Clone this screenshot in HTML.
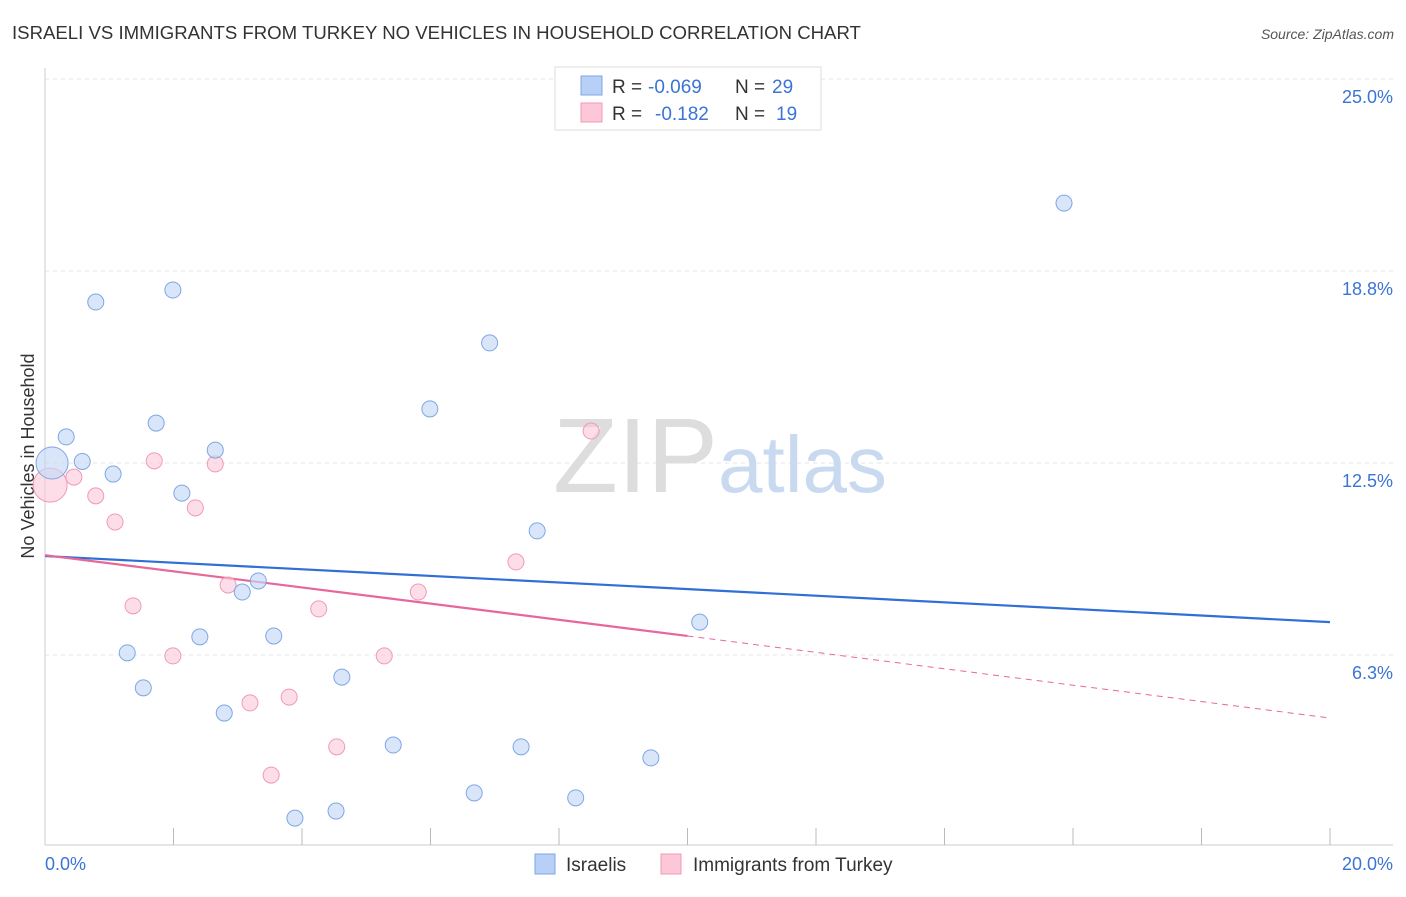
<!DOCTYPE html>
<html><head><meta charset="utf-8"><style>
body{margin:0;background:#fff;font-family:"Liberation Sans",sans-serif;}
svg text{font-family:"Liberation Sans",sans-serif;}
</style></head><body>
<svg id="c" width="1406" height="892" viewBox="0 0 1406 892" xmlns="http://www.w3.org/2000/svg">
<text x="12" y="39" font-size="18.6" fill="#333">ISRAELI VS IMMIGRANTS FROM TURKEY NO VEHICLES IN HOUSEHOLD CORRELATION CHART</text>
<text x="1394" y="39" font-size="14" fill="#555" font-style="italic" text-anchor="end">Source: ZipAtlas.com</text>
<g id="grid"></g>
<text x="553" y="492" font-size="106" fill="#ddd" font-family="Liberation Serif">ZIP</text>
<text x="718" y="492" font-size="80" fill="#c9daf0">atlas</text>
<line x1="45" y1="68" x2="45" y2="845" stroke="#ccc"/>
<line x1="45" y1="845" x2="1393" y2="845" stroke="#ccc"/>
<g id="xt"></g>
<text transform="translate(34,456) rotate(-90)" font-size="18" fill="#333" text-anchor="middle">No Vehicles in Household</text>
<text x="45" y="870" font-size="18" fill="#3a74d6">0.0%</text>
<text x="1393" y="870" font-size="18" fill="#3a74d6" text-anchor="end">20.0%</text>
<g id="lines"></g>
<g id="pts"></g>
<g>
<rect x="555" y="67" width="266" height="63" fill="#fff" stroke="#ddd"/>
<rect x="581" y="76" width="21" height="19" fill="#b8d0f5" stroke="#7ea6e6"/>
<rect x="581" y="103" width="21" height="19" fill="#fcc8d8" stroke="#f09ab5"/>
<text x="612" y="93" font-size="19" fill="#333">R =</text>
<text x="648" y="93" font-size="19" fill="#3a74d6">-0.069</text>
<text x="735" y="93" font-size="19" fill="#333">N =</text>
<text x="772" y="93" font-size="19" fill="#3a74d6">29</text>
<text x="612" y="120" font-size="19" fill="#333">R =</text>
<text x="655" y="120" font-size="19" fill="#3a74d6">-0.182</text>
<text x="735" y="120" font-size="19" fill="#333">N =</text>
<text x="776" y="120" font-size="19" fill="#3a74d6">19</text>
</g>
<g>
<rect x="535" y="854" width="20" height="20" fill="#b8d0f5" stroke="#7ea6e6"/>
<text x="566" y="871" font-size="19" fill="#333">Israelis</text>
<rect x="661" y="854" width="20" height="20" fill="#fcc8d8" stroke="#f09ab5"/>
<text x="693" y="871" font-size="19" fill="#333">Immigrants from Turkey</text>
</g>
</svg>
<script>
const yTicks=[6.3,12.5,18.8,25.0];
const yTickVals=[6.25,12.5,18.75,25];
const xTickCount=10;
const blueX=[0.11,0.33,0.58,0.79,1.06,1.73,1.99,2.13,2.65,1.28,1.53,2.41,2.79,3.07,3.32,3.56,3.89,4.53,4.62,5.42,5.99,6.68,6.92,7.41,7.66,8.26,9.43,10.19,15.86];
const blueY=[12.5,13.35,12.55,17.74,12.14,13.8,18.13,11.52,12.92,6.32,5.18,6.84,4.36,8.3,8.66,6.87,0.94,1.17,5.53,3.32,14.26,1.76,16.41,3.26,10.29,1.6,2.9,7.32,20.96];
const pinkX=[0.08,0.45,0.79,1.09,1.37,1.70,1.99,2.34,2.65,2.85,3.19,3.52,3.80,4.26,4.54,5.28,5.81,7.33,8.50];
const pinkY=[11.78,12.04,11.43,10.58,7.85,12.57,6.22,11.04,12.47,8.53,4.69,2.34,4.88,7.75,3.26,6.22,8.3,9.28,13.54];
const blueLine=[9.47,7.32];
const pinkLine=[9.5,6.87,4.2];
const X=v=>45+64.25*v, Y=v=>847-30.72*v;
const NS="http://www.w3.org/2000/svg";
function mk(t,a,p){const e=document.createElementNS(NS,t);for(const k in a)e.setAttribute(k,a[k]);p.appendChild(e);return e;}
const g=document.getElementById('grid');
yTickVals.forEach((v,i)=>{
 const l=mk('line',{x1:45,x2:1393,y1:Y(v),y2:Y(v),stroke:'#e4e4e4','stroke-dasharray':'4,4'},g);
 
 
 const t=mk('text',{x:1393,y:Y(v)+24,'font-size':18,fill:'#3a74d6','text-anchor':'end'},g);
 t.textContent=yTicks[i].toFixed(1)+'%';
 
 
});
const xt=document.getElementById('xt');
for(let i=1;i<=xTickCount;i++){
 const l=mk('line',{x1:X(i*2),x2:X(i*2),y1:828,y2:845,stroke:'#bbb'},xt);
 
 
}
const L=document.getElementById('lines');
let b=mk('line',{x1:X(0),y1:Y(blueLine[0]),x2:X(20),y2:Y(blueLine[1]),stroke:'#2f6fd6','stroke-width':2.2},L);


let p1=mk('line',{x1:X(0),y1:Y(pinkLine[0]),x2:X(10),y2:Y(pinkLine[1]),stroke:'#e8679a','stroke-width':2.2},L);


let p2=mk('line',{x1:X(10),y1:Y(pinkLine[1]),x2:X(20),y2:Y(pinkLine[2]),stroke:'#e8679a','stroke-width':1,'stroke-dasharray':'6,5'},L);


const P=document.getElementById('pts');
pinkX.forEach((x,i)=>{
 const c=mk('circle',{cx:X(x),cy:Y(pinkY[i]),r:i==0?17:8,fill:'#fcc8d8','fill-opacity':0.6,stroke:'#f09ab5','stroke-width':1},P);
 
 
});
blueX.forEach((x,i)=>{
 const c=mk('circle',{cx:X(x),cy:Y(blueY[i]),r:i==0?16:8,fill:'#c4d8f6','fill-opacity':0.65,stroke:'#7ea6e6','stroke-width':1},P);
 
 
});
</script>
</body></html>
